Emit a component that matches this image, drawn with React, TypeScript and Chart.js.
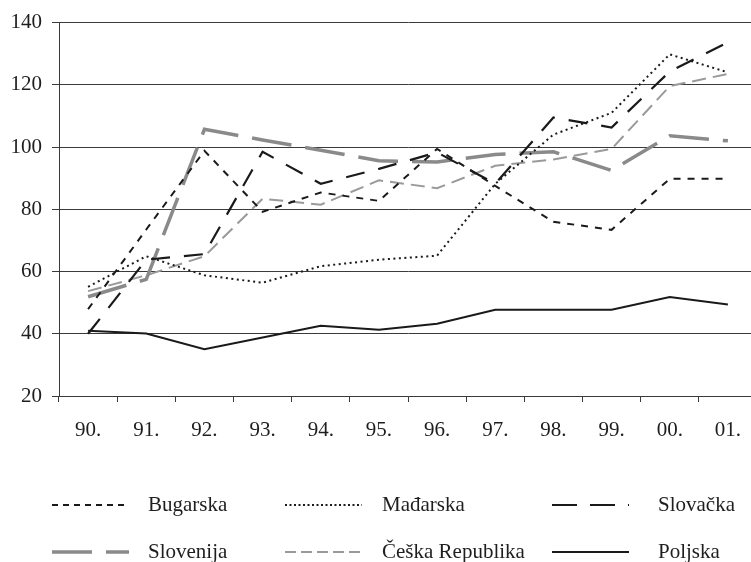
import React, { useEffect, useRef } from "react";
import { Chart, registerables } from "chart.js";

Chart.register(...registerables);

const years = ["90.", "91.", "92.", "93.", "94.", "95.", "96.", "97.", "98.", "99.", "00.", "01."];
const bugarska = [47.9, 73.5, 98.8, 79.2, 85.4, 82.7, 99.4, 87.5, 76.0, 73.4, 89.8, 89.8];
const madjarska = [55.1, 64.9, 58.8, 56.4, 61.7, 63.8, 65.1, 88.2, 104.0, 111.0, 129.8, 124.0];
const slovacka = [40.0, 63.8, 65.6, 98.5, 88.2, 93.0, 98.3, 88.2, 109.5, 106.3, 124.3, 133.7];
const slovenija = [51.9, 57.5, 105.7, 102.3, 99.0, 95.6, 95.2, 97.6, 98.5, 92.5, 103.6, 102.0];
const ceska = [53.7, 58.8, 64.9, 83.4, 81.5, 89.3, 86.8, 94.0, 96.0, 99.4, 119.6, 123.5];
const poljska = [41.0, 40.1, 35.0, 38.8, 42.6, 41.3, 43.2, 47.7, 47.7, 47.7, 51.8, 49.4];
const yTicks = [20, 40, 60, 80, 100, 120, 140];

const FONT = "'Liberation Serif', 'Times New Roman', serif";
const TEXT = "#1e1e1e";
const GRID = "#3a3a3a";

const legendPlugin = {
  id: "customLegend",
  afterDraw(chart: any) {
    const ctx = chart.ctx;
    const slots = [
      { lx: 52, tx: 148, y: 505 },
      { lx: 285, tx: 382, y: 505 },
      { lx: 552, tx: 658, y: 505 },
      { lx: 52, tx: 148, y: 552 },
      { lx: 285, tx: 382, y: 552 },
      { lx: 552, tx: 658, y: 552 },
    ];
    chart.data.datasets.forEach((ds: any, i: number) => {
      const s = slots[i];
      ctx.save();
      ctx.strokeStyle = ds.borderColor;
      ctx.lineWidth = ds.borderWidth;
      ctx.setLineDash(ds.legendDash || []);
      ctx.lineCap = "butt";
      ctx.beginPath();
      ctx.moveTo(s.lx, s.y);
      ctx.lineTo(s.lx + 77, s.y);
      ctx.stroke();
      ctx.setLineDash([]);
      ctx.fillStyle = TEXT;
      ctx.font = `21px ${FONT}`;
      ctx.textBaseline = "middle";
      ctx.textAlign = "left";
      ctx.fillText(ds.label, s.tx, s.y);
      ctx.restore();
    });
  },
};

export default function App() {
  const ref = useRef<HTMLCanvasElement | null>(null);

  useEffect(() => {
    if (!ref.current) return;
    const mk = (label: string, data: number[], color: string, width: number, dash: number[], legendDash: number[]) => ({
      label,
      data,
      borderColor: color,
      backgroundColor: color,
      borderWidth: width,
      borderDash: dash,
      legendDash,
      pointRadius: 0,
      tension: 0,
      fill: false,
      borderCapStyle: "butt",
    });
    const chart = new Chart(ref.current, {
      type: "line",
      data: {
        labels: years,
        datasets: [
          mk("Bugarska", bugarska, "#1a1a1a", 2, [7, 7], [6, 5]),
          mk("Mađarska", madjarska, "#1a1a1a", 2, [2, 3.5], [2, 2.5]),
          mk("Slovačka", slovacka, "#1a1a1a", 2.2, [19, 14], [25, 13]),
          mk("Slovenija", slovenija, "#8a8a8a", 3.5, [40, 14], [40, 14]),
          mk("Češka Republika", ceska, "#9a9a9a", 2, [14, 7], [11, 5]),
          mk("Poljska", poljska, "#1a1a1a", 2, [], []),
        ] as any,
      },
      options: {
        responsive: false,
        animation: false,
        devicePixelRatio: 1,
        layout: { padding: { top: 19, right: 3, left: 0, bottom: 0 } },
        plugins: { legend: { display: false }, tooltip: { enabled: false } },
        scales: {
          x: {
            type: "category",
            offset: true,
            grid: { offset: true, drawOnChartArea: false, color: GRID, tickColor: GRID, tickLength: 6, lineWidth: 1 },
            border: { display: true, color: GRID, width: 1 },
            ticks: { font: { family: FONT, size: 21 }, color: TEXT, padding: 16, maxRotation: 0, autoSkip: false },
            afterFit: (s: any) => {
              s.height = 166;
            },
          },
          y: {
            min: 20,
            max: 140,
            afterBuildTicks: (s: any) => {
              s.ticks = yTicks.map((v) => ({ value: v }));
            },
            grid: { color: GRID, tickColor: GRID, tickLength: 7, lineWidth: 1 },
            border: { display: true, color: GRID, width: 1 },
            ticks: { font: { family: FONT, size: 21 }, color: TEXT, padding: 10 },
            afterFit: (s: any) => {
              s.width = 59;
            },
          },
        },
      } as any,
      plugins: [legendPlugin],
    });
    return () => chart.destroy();
  }, []);

  return (
    <div style={{ position: "absolute", left: 0, top: 0, width: 751, height: 562, overflow: "hidden", background: "#fff" }}>
      <canvas ref={ref} width={760} height={562} style={{ display: "block", width: 760, height: 562 }} />
    </div>
  );
}
